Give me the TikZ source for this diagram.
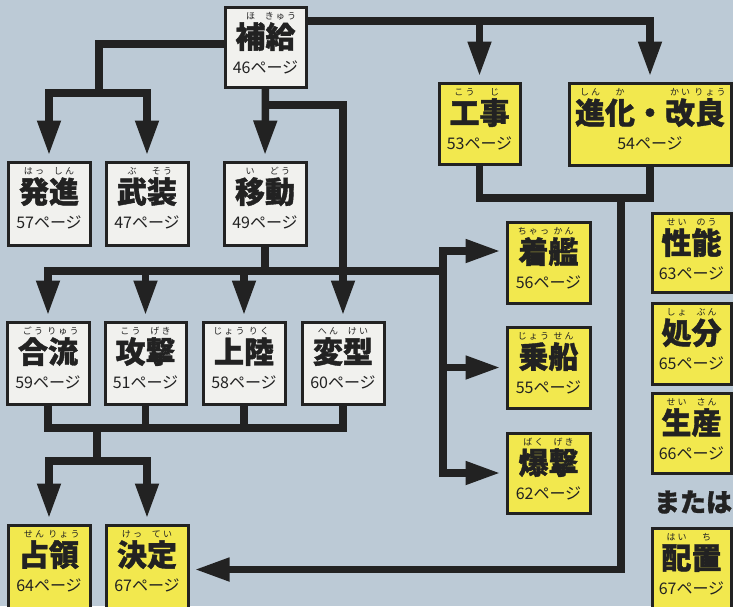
\documentclass[tikz,border=0pt]{standalone}
\usepackage{fontspec}
\newfontfamily\jp{Noto Sans CJK JP}[BoldFeatures={FakeBold=1.3}]
\usetikzlibrary{arrows.meta}
\definecolor{bg}{HTML}{BCCAD6}
\definecolor{ylw}{HTML}{F2E84E}
\definecolor{wht}{HTML}{F1F1EE}
\definecolor{ink}{HTML}{222222}
\newcommand\rubyf{\jp\mdseries\fontsize{9}{9}\selectfont}
\newcommand\rb[2]{\makebox[0pt][l]{\makebox[1em]{\raisebox{0.95em}[0pt][0pt]{\rubyf #2}}}#1}
\newcommand\bx[8]{%
  \node[#2, minimum width={#5-#3}, minimum height={#6-#4}] (#1) at ({(#3+#5)/2},{(#4+#6)/2}) {};
  \node[kanji] (#1k) at ([yshift=-42.5pt]#1.north) {#7};
  \node[pagetxt] (#1p) at ([yshift=-68pt]#1.north) {#8};
}
\tikzset{
  box/.style={draw=ink, line width=3pt, inner sep=0pt, outer sep=1.5pt},
  wbox/.style={box, fill=wht},
  ybox/.style={box, fill=ylw},
  kanji/.style={anchor=base, inner sep=0pt, text=ink, font=\jp\bfseries\fontsize{30}{30}\selectfont},
  pagetxt/.style={anchor=base, inner sep=0pt, text=ink, font=\jp\fontsize{16}{16}\selectfont},
  con/.style={draw=ink, line width=7.5pt},
  arr/.style={con, -{Triangle[length=35pt,width=22pt]}, shorten >=5pt},
}
\begin{document}
\begin{tikzpicture}[x=1pt,y=-1pt]
\clip (0,0) rectangle (733,606);
\fill[bg] (0,0) rectangle (733,606);
% boxes
\bx{hokyu}{wbox}{225}{7}{306}{87}{\rb{補}{ほ}\rb{給}{き ゅ う}}{46ページ}
\bx{hasshin}{wbox}{8}{162}{90}{245}{\rb{発}{は っ}\rb{進}{し ん}}{57ページ}
\bx{buso}{wbox}{106}{162}{188}{245}{\rb{武}{ぶ}\rb{装}{そ う}}{47ページ}
\bx{ido}{wbox}{224}{162}{306}{245}{\rb{移}{い}\rb{動}{ど う}}{49ページ}
\bx{koji}{ybox}{439}{83}{520}{164}{\rb{工}{こ う}\rb{事}{じ}}{53ページ}
\bx{shinka}{ybox}{569}{83}{731}{165}{\rb{進}{し ん}\rb{化}{か}・\rb{改}{か い}\rb{良}{り ょ う}}{54ページ}
\bx{goryu}{wbox}{7}{322}{89}{404}{\rb{合}{ご う}\rb{流}{り ゅ う}}{59ページ}
\bx{kogeki}{wbox}{105}{322}{186}{404}{\rb{攻}{こ う}\rb{撃}{げ き}}{51ページ}
\bx{joriku}{wbox}{203}{322}{285}{404}{\rb{上}{じ ょ う}\rb{陸}{り く}}{58ページ}
\bx{henkei}{wbox}{302}{322}{384}{404}{\rb{変}{へ ん}\rb{型}{け い}}{60ページ}
\bx{chakkan}{ybox}{507}{222}{590}{303}{\rb{着}{ち ゃ っ}\rb{艦}{か ん}}{56ページ}
\bx{josen}{ybox}{507}{327}{590}{408}{\rb{乗}{じ ょ う}\rb{船}{せ ん}}{55ページ}
\bx{bakugeki}{ybox}{507}{433}{590}{513}{\rb{爆}{ば く}\rb{撃}{げ き}}{62ページ}
\bx{seino}{ybox}{652}{213}{731}{292}{\rb{性}{せ い}\rb{能}{の う}}{63ページ}
\bx{shobun}{ybox}{652}{303}{731}{384}{\rb{処}{し ょ}\rb{分}{ぶ ん}}{65ページ}
\bx{seisan}{ybox}{652}{393}{731}{473}{\rb{生}{せ い}\rb{産}{さ ん}}{66ページ}
\bx{haichi}{ybox}{652}{528}{731}{609}{\rb{配}{は い}\rb{置}{ち}}{67ページ}
\bx{senryo}{ybox}{8}{525}{90}{608}{\rb{占}{せ ん}\rb{領}{り ょ う}}{64ページ}
\bx{kettei}{ybox}{106}{525}{188}{608}{\rb{決}{け っ}\rb{定}{て い}}{67ページ}
\node[text=ink, inner sep=0pt, font=\jp\bfseries\fontsize{26}{26}\selectfont] (mataha) at (693,502) {または};
% helper coordinates
\coordinate (y105) at (0,105);
\coordinate (ybar) at (0,271);
\coordinate (y198) at (0,198);
\coordinate (yb2) at (0,428);
\coordinate (j1) at (99,93);
\coordinate (j2) at (hokyu.south |- y105);
\coordinate (j3) at (ido.south |- ybar);
\coordinate (j4) at (443,251);
\coordinate (top) at ([yshift=-15.5pt]hokyu.north east);
\coordinate (j5) at (koji.south |- y198);
\coordinate (j6) at (621,198);
\coordinate (j9) at (97,428);
\coordinate (j10) at (97,461);
% connectors
\draw[arr] ([yshift=3pt]hokyu.west) -| (j1) -| (hasshin.north);
\draw[arr] (j1) -| (buso.north);
\draw[arr] (hokyu.south) -- (ido.north);
\draw[arr] (j2) -| (henkei.north);
\draw[con] (ido.south) -- (j3);
\draw[arr] (j3) -| (goryu.north);
\draw[arr] (kogeki.north |- ybar) -- (kogeki.north);
\draw[arr] (joriku.north |- ybar) -- (joriku.north);
\draw[arr] (j3) -| (j4) -- (chakkan.west |- j4);
\draw[arr] (j4) |- (bakugeki.west);
\draw[arr] (j4 |- josen.west) -- (josen.west);
\draw[arr] (top) -| (shinka.north);
\draw[arr] (koji.north |- top) -- (koji.north);
\draw[con] (koji.south) -- (j5) -| (shinka.south);
\draw[arr] (j6) |- ([yshift=-3pt]kettei.east);
\draw[con] (goryu.south) |- (henkei.south |- yb2) -- (henkei.south);
\draw[con] (kogeki.south) -- (kogeki.south |- yb2);
\draw[con] (joriku.south) -- (joriku.south |- yb2);
\draw[arr] (j9) -- (j10) -| (senryo.north);
\draw[arr] (j10) -| (kettei.north);
\end{tikzpicture}
\end{document}
